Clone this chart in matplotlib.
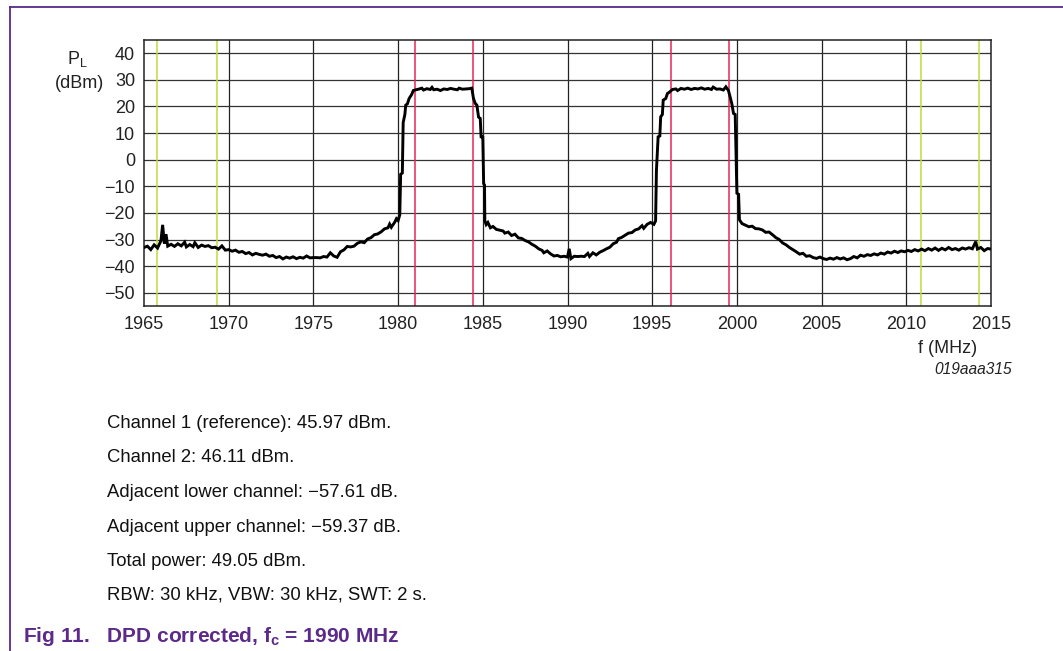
import matplotlib
matplotlib.use("Agg")
import matplotlib.pyplot as plt
from matplotlib.lines import Line2D

plt.rcParams['font.family'] = ['Liberation Sans', 'DejaVu Sans']

# ---- data ----
freq = [1965.0, 1965.2, 1965.4, 1965.6, 1965.8, 1966.0, 1966.1, 1966.2, 1966.3, 1966.4,
        1966.6, 1966.8, 1967.0, 1967.2, 1967.4, 1967.5, 1967.7, 1967.9, 1968.0, 1968.2,
        1968.4, 1968.6, 1968.8, 1969.0, 1969.2, 1969.4, 1969.6, 1969.8, 1970.0, 1970.2,
        1970.4, 1970.6, 1970.8, 1971.0, 1971.2, 1971.4, 1971.6, 1971.8, 1972.0, 1972.2,
        1972.4, 1972.6, 1972.8, 1973.0, 1973.2, 1973.4, 1973.6, 1973.8, 1974.0, 1974.2,
        1974.4, 1974.6, 1974.8, 1975.0, 1975.2, 1975.4, 1975.6, 1975.8, 1976.0, 1976.2,
        1976.4, 1976.6, 1976.8, 1977.0, 1977.2, 1977.4, 1977.6, 1977.8, 1978.0, 1978.2,
        1978.4, 1978.6, 1978.8, 1979.0, 1979.2, 1979.4, 1979.5, 1979.6, 1979.8, 1979.9,
        1980.0, 1980.1, 1980.15, 1980.25, 1980.3, 1980.4, 1980.45, 1980.55, 1980.65, 1980.8,
        1980.9, 1981.0, 1981.2, 1981.4, 1981.5, 1981.7, 1981.9, 1982.0, 1982.1, 1982.3,
        1982.5, 1982.7, 1982.9, 1983.1, 1983.3, 1983.5, 1983.6, 1983.8, 1984.0, 1984.2,
        1984.35, 1984.45, 1984.55, 1984.65, 1984.75, 1984.85, 1984.9, 1985.0, 1985.05, 1985.1,
        1985.12, 1985.2, 1985.3, 1985.45, 1985.6, 1985.8, 1986.0, 1986.2, 1986.3, 1986.5,
        1986.7, 1986.9, 1987.1, 1987.3, 1987.5, 1987.7, 1987.9, 1988.1, 1988.3, 1988.5,
        1988.6, 1988.8, 1989.0, 1989.2, 1989.4, 1989.6, 1989.8, 1990.0, 1990.1, 1990.2,
        1990.4, 1990.6, 1990.8, 1991.0, 1991.2, 1991.3, 1991.5, 1991.7, 1991.9, 1992.1,
        1992.3, 1992.5, 1992.7, 1992.9, 1993.0, 1993.2, 1993.4, 1993.6, 1993.8, 1994.0,
        1994.2, 1994.4, 1994.5, 1994.7, 1994.9, 1995.1, 1995.2, 1995.25, 1995.35, 1995.45,
        1995.5, 1995.6, 1995.65, 1995.8, 1995.9, 1996.0, 1996.2, 1996.4, 1996.5, 1996.7,
        1996.9, 1997.1, 1997.3, 1997.5, 1997.7, 1997.9, 1998.1, 1998.3, 1998.5, 1998.6,
        1998.8, 1999.0, 1999.2, 1999.35, 1999.5, 1999.6, 1999.7, 1999.8, 1999.9, 1999.95,
        2000.0, 2000.1, 2000.15, 2000.3, 2000.5, 2000.7, 2000.9, 2001.1, 2001.3, 2001.5,
        2001.7, 2001.9, 2002.1, 2002.3, 2002.5, 2002.7, 2002.9, 2003.1, 2003.3, 2003.5,
        2003.7, 2003.9, 2004.1, 2004.3, 2004.5, 2004.7, 2004.9, 2005.1, 2005.3, 2005.5,
        2005.7, 2005.9, 2006.1, 2006.3, 2006.5, 2006.7, 2006.9, 2007.1, 2007.3, 2007.5,
        2007.7, 2007.9, 2008.1, 2008.3, 2008.5, 2008.7, 2008.9, 2009.1, 2009.3, 2009.5,
        2009.7, 2009.9, 2010.1, 2010.3, 2010.5, 2010.7, 2010.9, 2011.1, 2011.3, 2011.5,
        2011.7, 2011.9, 2012.1, 2012.3, 2012.5, 2012.7, 2012.9, 2013.1, 2013.3, 2013.5,
        2013.7, 2013.9, 2014.1, 2014.2, 2014.4, 2014.6, 2014.8, 2015.0]

power = [-33.0, -32.5, -33.8, -32.0, -33.2, -30.5, -24.5, -31.5, -28.0, -32.5,
         -31.8, -32.6, -31.6, -32.4, -31.0, -32.8, -31.9, -32.7, -31.2, -33.0,
         -32.1, -32.6, -32.3, -33.1, -32.9, -33.6, -32.4, -34.0, -33.8, -34.4,
         -34.0, -34.8, -34.5, -35.3, -34.9, -35.8, -35.2, -35.6, -35.9, -35.5,
         -36.3, -36.0, -36.8, -36.4, -37.3, -36.6, -37.0, -36.5, -37.2, -36.7,
         -37.0, -36.2, -36.9, -36.8, -36.8, -36.9, -36.4, -36.6, -35.0, -36.2,
         -36.7, -34.6, -33.9, -32.6, -32.8, -32.5, -31.4, -30.9, -31.2, -29.8,
         -29.3, -28.2, -27.9, -27.1, -26.0, -25.6, -24.2, -25.4, -23.5, -22.2,
         -22.9, -20.7, -5.5, -5.0, 14.0, 17.0, 20.5, 21.0, 23.0, 24.5,
         26.0, 26.2, 26.5, 26.9, 26.2, 26.7, 26.4, 27.2, 26.3, 26.5,
         26.0, 26.6, 26.4, 26.8, 26.5, 26.3, 26.9, 26.5, 26.6, 26.7,
         26.9, 23.0, 21.2, 20.5, 16.0, 15.5, 8.6, 8.5, -9.0, -9.5,
         -23.0, -24.4, -23.6, -25.6, -25.1, -26.2, -26.5, -26.8, -27.6, -27.2,
         -28.5, -28.0, -29.4, -29.6, -30.4, -30.9, -31.8, -32.5, -33.5, -34.1,
         -35.0, -34.3, -35.4, -36.2, -36.0, -36.5, -36.3, -36.6, -33.5, -37.2,
         -36.3, -36.4, -36.3, -36.4, -35.2, -36.4, -35.0, -35.8, -34.8, -34.2,
         -33.5, -32.9, -31.6, -31.0, -29.7, -29.2, -28.4, -27.6, -27.4, -26.4,
         -26.0, -24.8, -25.8, -24.3, -23.6, -24.3, -23.0, -4.0, 8.6, 8.9,
         16.1, 17.0, 22.4, 23.0, 24.9, 25.3, 26.4, 26.6, 26.0, 26.8,
         26.5, 26.9, 26.4, 26.8, 26.6, 27.0, 26.5, 26.8, 26.4, 27.3,
         26.5, 26.6, 26.2, 27.4, 26.0, 23.6, 21.0, 17.4, 17.0, 2.4,
         -12.6, -13.0, -22.6, -24.0, -24.6, -25.2, -25.0, -25.9, -26.0, -26.4,
         -27.3, -27.2, -28.2, -29.3, -30.0, -31.3, -32.0, -33.0, -33.8, -34.6,
         -35.5, -35.2, -36.3, -36.1, -36.8, -37.1, -36.6, -37.2, -37.5, -37.0,
         -37.4, -36.8, -37.3, -36.9, -37.6, -37.2, -36.4, -36.9, -35.9, -36.3,
         -35.7, -36.0, -35.4, -35.8, -35.1, -35.5, -34.7, -35.1, -34.4, -34.9,
         -34.3, -34.6, -34.1, -34.5, -33.8, -34.3, -33.6, -34.2, -33.4, -34.0,
         -33.2, -34.1, -33.3, -33.9, -33.0, -33.8, -33.4, -34.0, -33.2, -33.6,
         -33.1, -33.5, -30.8, -33.6, -33.0, -34.2, -33.4, -33.6]

green_markers = [1965.77, 1969.31, 2010.88, 2014.27]
red_markers = [1980.98, 1984.40, 1996.09, 1999.53]

x_ticks = [1965, 1970, 1975, 1980, 1985, 1990, 1995, 2000, 2005, 2010, 2015]
y_ticks = [-50, -40, -30, -20, -10, 0, 10, 20, 30, 40]

notes = ["Channel 1 (reference): 45.97 dBm.",
         "Channel 2: 46.11 dBm.",
         "Adjacent lower channel: \u221257.61 dB.",
         "Adjacent upper channel: \u221259.37 dB.",
         "Total power: 49.05 dBm.",
         "RBW: 30 kHz, VBW: 30 kHz, SWT: 2 s."]

# ---- figure ----
W, H = 1063, 651
fig = plt.figure(figsize=(W / 100, H / 100), dpi=100)
fig.patch.set_facecolor('white')

def fx(px):
    return px / W

def fy(py):
    return 1 - py / H

ax = fig.add_axes([fx(144), fy(306), fx(991) - fx(144), fy(40) - fy(306)])
ax.set_xlim(1965, 2015)
ax.set_ylim(-55, 45)

for x in x_ticks[1:-1]:
    ax.axvline(x, color='#222222', lw=0.9, zorder=1)
for y in y_ticks:
    ax.axhline(y, color='#333333', lw=0.9, zorder=1)
for x in green_markers:
    ax.axvline(x, color='#c3d83c', lw=1.1, zorder=2)
for x in red_markers:
    ax.axvline(x, color='#e8265e', lw=1.1, zorder=2)

ax.plot(freq, power, color='black', lw=2.1, zorder=3, solid_joinstyle='miter')

ax.set_xticks(x_ticks)
ax.set_yticks(y_ticks)
ax.set_xticklabels([str(v) for v in x_ticks])
ax.set_yticklabels([str(v).replace('-', '\u2212') for v in y_ticks])
ax.tick_params(length=0, labelsize=13, colors='#222222')
ax.tick_params(axis='x', pad=7.5)
ax.tick_params(axis='y', pad=6.5)
for s in ax.spines.values():
    s.set_color('#222222')
    s.set_linewidth(1.1)

# axis labels
fig.text(fx(77), fy(64), 'P$_\\mathregular{L}$', ha='center', va='baseline', fontsize=13, color='#222222')
fig.text(fx(80), fy(88), '(dBm)', ha='center', va='baseline', fontsize=13, color='#222222')
fig.text(fx(948), fy(353), 'f (MHz)', ha='center', va='baseline', fontsize=13, color='#222222')
fig.text(fx(1012), fy(374), '019aaa315', ha='right', va='baseline', fontsize=11.2, style='italic', color='#222222')

# notes
baselines = [428, 462, 497, 532, 566, 600]
for t, b in zip(notes, baselines):
    fig.text(fx(107), fy(b), t, ha='left', va='baseline', fontsize=13.3, color='#111111')

purple = '#5c2a8a'
fig.text(fx(23), fy(642), 'Fig 11.   DPD corrected, f$_\\mathregular{c}$ = 1990 MHz',
         ha='left', va='baseline', fontsize=15, fontweight='bold', color=purple)

# border lines
fig.add_artist(Line2D([fx(10), fx(10)], [fy(7), 0], color=purple, lw=1.3))
fig.add_artist(Line2D([fx(10), 1], [fy(7), fy(7)], color=purple, lw=1.3))

fig.savefig('out.png', dpi=100)
